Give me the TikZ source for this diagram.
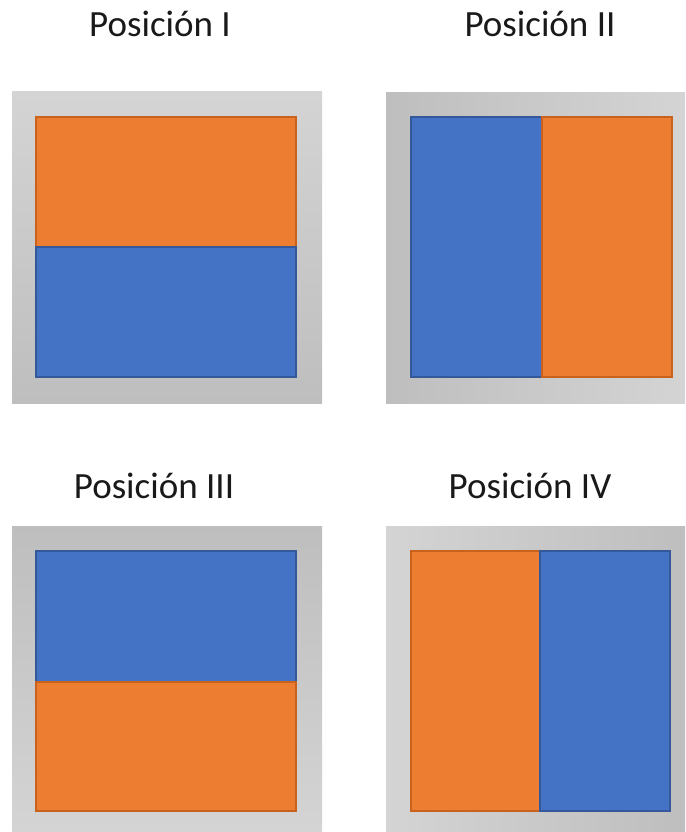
\documentclass[tikz,border=0pt]{standalone}
\usepackage{fontspec}
\setmainfont{Carlito}
\usetikzlibrary{positioning}
\definecolor{officeorange}{HTML}{ED7D31}
\definecolor{officeblue}{HTML}{4472C4}
\definecolor{orangeedge}{HTML}{C8621C}
\definecolor{blueedge}{HTML}{35589A}
\definecolor{framelight}{HTML}{D4D4D4}
\definecolor{framedark}{HTML}{BEBEBE}
\begin{document}
\begin{tikzpicture}[
    x=1pt, y=-1pt,
    title/.style={anchor=base, inner sep=0pt, font=\fontsize{37}{40}\selectfont, text=black!90},
    orangehalf/.style={fill=officeorange, draw=orangeedge, line width=1.3pt},
    bluehalf/.style={fill=officeblue, draw=blueedge, line width=1.3pt}
]
    \useasboundingbox (0,0) rectangle (685,832);

    % titles
    \node [title] (titleI)   at (160,37)  {Posición I};
    \node [title] (titleII)  at (540,37)  {Posición II};
    \node [title] (titleIII) at (154,498) {Posición III};
    \node [title] (titleIV)  at (530,498) {Posición IV};

    % Posicion I
    \shade [top color=framelight, bottom color=framedark] (12,92) rectangle (322,403);
    \draw [orangehalf] (36,117) rectangle (296,247);
    \draw [bluehalf] (36,247) rectangle (296,377);

    % Posicion II
    \shade [left color=framedark, right color=framelight] (386,93) rectangle (685,403);
    \draw [bluehalf] (411,117) rectangle (542,377);
    \draw [orangehalf] (542,117) rectangle (672,377);

    % Posicion III
    \shade [top color=framedark, bottom color=framelight] (12,526) rectangle (322,832);
    \draw [bluehalf] (36,551) rectangle (296,682);
    \draw [orangehalf] (36,682) rectangle (296,811);

    % Posicion IV
    \shade [left color=framelight, right color=framedark] (386,526) rectangle (685,832);
    \draw [orangehalf] (411,551) rectangle (540,811);
    \draw [bluehalf] (540,551) rectangle (670,811);
\end{tikzpicture}
\end{document}
